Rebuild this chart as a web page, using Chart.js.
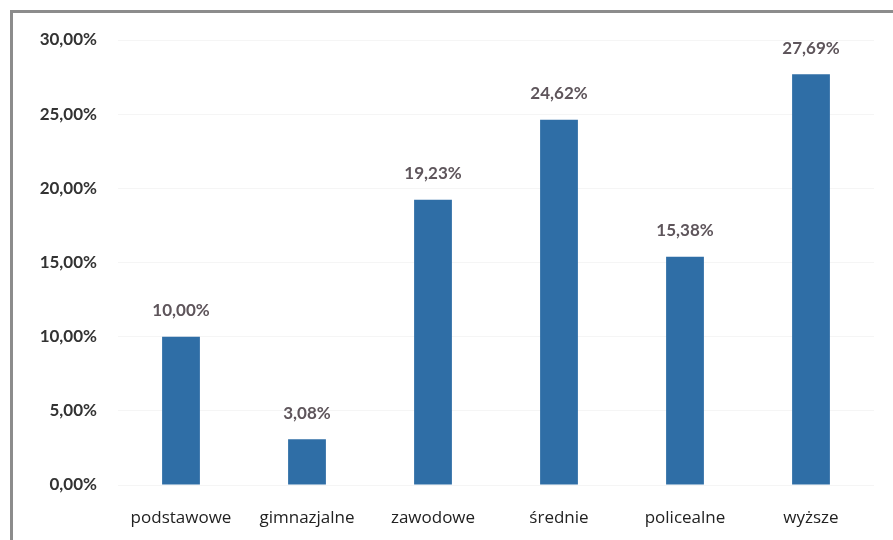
<!DOCTYPE html>
<html>
<head>
<meta charset="utf-8">
<script src="https://cdn.jsdelivr.net/npm/chart.js@4/dist/chart.umd.min.js"></script>
<style>
  html, body { margin: 0; padding: 0; background: #fff; }
  #wrap { position: relative; width: 893px; height: 540px; }
  #frame { position: absolute; left: 10px; top: 10px; right: -5px; bottom: -5px;
           border-top: 3px solid #8c8c8c; border-left: 3px solid #8c8c8c; }
  canvas { position: absolute; left: 0; top: 0; }
</style>
</head>
<body>
<div id="wrap">
  <div id="frame"></div>
  <canvas id="bar" width="893" height="540"></canvas>
</div>
<script>
var categories = ['podstawowe', 'gimnazjalne', 'zawodowe', 'średnie', 'policealne', 'wyższe'];
var values = [10.00, 3.08, 19.23, 24.62, 15.38, 27.69];
var yTicks = [0, 5, 10, 15, 20, 25, 30];

function fmt(v) {
    return v.toFixed(2).replace('.', ',') + '%';
}

var labelPlugin = {
    id: 'valueLabels',
    afterDatasetsDraw: function (chart) {
        var ctx = chart.ctx;
        var meta = chart.getDatasetMeta(0);
        ctx.save();
        ctx.font = 'bold 17px Lato, "Open Sans", sans-serif';
        ctx.fillStyle = '#5e555b';
        ctx.textAlign = 'center';
        ctx.textBaseline = 'middle';
        meta.data.forEach(function (bar, i) {
            ctx.fillText(fmt(values[i]), bar.x, bar.y - 26);
        });
        ctx.restore();
    }
};

var ctx = document.getElementById('bar').getContext('2d');
new Chart(ctx, {
    type: 'bar',
    data: {
        labels: categories,
        datasets: [{
            data: values,
            backgroundColor: '#2f6ea6',
            borderWidth: 0,
            barPercentage: 0.3,
            categoryPercentage: 1
        }]
    },
    options: {
        responsive: false,
        animation: false,
        layout: { padding: { top: 40, right: 19, left: 0, bottom: 0 } },
        plugins: {
            legend: { display: false },
            tooltip: { enabled: false }
        },
        scales: {
            x: {
                grid: { display: false },
                border: { display: false },
                ticks: {
                    color: '#222',
                    padding: 15,
                    font: { family: '"Open Sans", Lato, sans-serif', size: 17 }
                },
                afterFit: function (scale) { scale.height = 55; }
            },
            y: {
                min: 0,
                max: 30,
                afterBuildTicks: function (scale) {
                    scale.ticks = yTicks.map(function (v) { return { value: v }; });
                },
                grid: { color: '#f5f5f5', drawTicks: false },
                border: { display: false },
                ticks: {
                    color: '#333',
                    padding: 21,
                    font: { family: 'Lato, "Open Sans", sans-serif', size: 17, weight: 'bold' },
                    callback: function (v) { return fmt(v); }
                },
                afterFit: function (scale) { scale.width = 118; }
            }
        }
    },
    plugins: [labelPlugin]
});
</script>
</body>
</html>
